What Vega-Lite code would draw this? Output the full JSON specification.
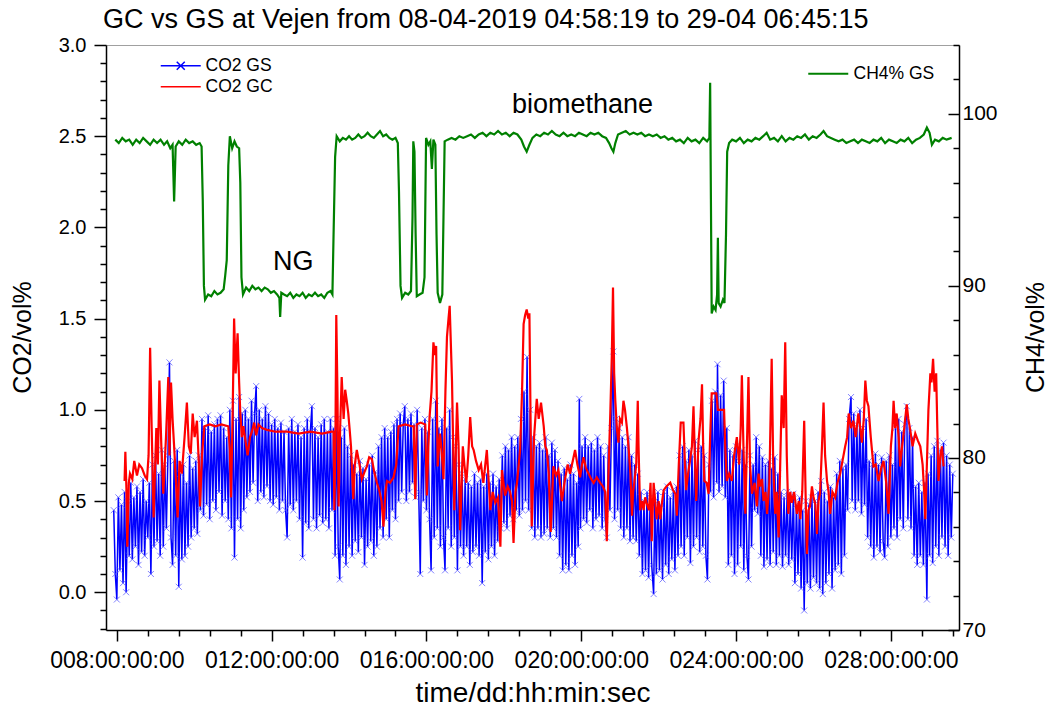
{
  "$schema": "https://vega.github.io/schema/vega-lite/v6.json",
  "width": 853,
  "height": 585,
  "autosize": {"type": "none"},
  "padding": {"left": 106, "top": 45, "right": 88, "bottom": 87},
  "background": "white",
  "title": {"text": "GC vs GS at Vejen from 08-04-2019 04:58:19 to 29-04 06:45:15", "anchor": "start", "frame": "group", "offset": 1, "dx": -3, "fontSize": 27, "font": "Liberation Sans", "fontWeight": "normal", "color": "black"},
  "config": {
    "font": "Liberation Sans",
    "view": {"stroke": "#a0a0a0", "strokeWidth": 1},
    "axis": {"labelFont": "Liberation Sans", "titleFont": "Liberation Sans", "labelColor": "black", "titleColor": "black", "titleFontWeight": "normal", "grid": false, "domainColor": "black", "domainWidth": 1.5, "tickColor": "black", "tickWidth": 1.5, "labelFontSize": 20, "titleFontSize": 25, "labelOverlap": false},
    "legend": {"labelFont": "Liberation Sans", "labelColor": "black", "labelFontSize": 17.5}
  },
  "datasets": {
    "gs": [
      {"t":7.92,"v":0.45},{"t":7.96,"v":0.10},{"t":8.00,"v":-0.04},{"t":8.04,"v":0.52},{"t":8.08,"v":0.12},{"t":8.12,"v":0.48},{"t":8.16,"v":0.05},{"t":8.20,"v":0.55},{"t":8.24,"v":0.00},{"t":8.28,"v":0.50},{"t":8.32,"v":0.20},{"t":8.36,"v":0.60},{"t":8.40,"v":0.18},{"t":8.44,"v":0.52},{"t":8.48,"v":0.25},{"t":8.52,"v":0.58},{"t":8.56,"v":0.15},{"t":8.60,"v":0.55},{"t":8.64,"v":0.22},{"t":8.68,"v":0.62},{"t":8.72,"v":0.20},{"t":8.76,"v":0.50},{"t":8.80,"v":0.30},{"t":8.84,"v":0.60},{"t":8.88,"v":0.10},{"t":8.92,"v":0.70},{"t":8.96,"v":0.25},{"t":9.00,"v":0.75},{"t":9.04,"v":0.28},{"t":9.08,"v":0.65},{"t":9.12,"v":0.20},{"t":9.16,"v":0.78},{"t":9.20,"v":0.25},{"t":9.24,"v":0.70},{"t":9.28,"v":0.35},{"t":9.32,"v":0.75},{"t":9.36,"v":1.26},{"t":9.40,"v":0.30},{"t":9.44,"v":0.15},{"t":9.48,"v":0.72},{"t":9.52,"v":0.20},{"t":9.56,"v":0.78},{"t":9.60,"v":0.03},{"t":9.64,"v":0.65},{"t":9.68,"v":0.18},{"t":9.72,"v":0.70},{"t":9.76,"v":0.20},{"t":9.80,"v":0.60},{"t":9.84,"v":0.25},{"t":9.88,"v":0.75},{"t":9.92,"v":0.30},{"t":9.96,"v":0.68},{"t":10.00,"v":0.35},{"t":10.04,"v":0.72},{"t":10.08,"v":0.32},{"t":10.12,"v":0.75},{"t":10.16,"v":0.45},{"t":10.20,"v":0.95},{"t":10.24,"v":0.42},{"t":10.28,"v":0.90},{"t":10.32,"v":0.48},{"t":10.36,"v":0.97},{"t":10.40,"v":0.40},{"t":10.44,"v":0.88},{"t":10.48,"v":0.50},{"t":10.52,"v":0.92},{"t":10.56,"v":0.45},{"t":10.60,"v":0.95},{"t":10.64,"v":0.55},{"t":10.68,"v":0.97},{"t":10.72,"v":0.42},{"t":10.76,"v":0.90},{"t":10.80,"v":0.50},{"t":10.84,"v":0.85},{"t":10.88,"v":0.40},{"t":10.92,"v":1.00},{"t":10.96,"v":0.35},{"t":11.00,"v":1.05},{"t":11.04,"v":0.19},{"t":11.08,"v":0.95},{"t":11.12,"v":0.40},{"t":11.16,"v":1.07},{"t":11.20,"v":0.35},{"t":11.24,"v":0.98},{"t":11.28,"v":0.45},{"t":11.32,"v":1.00},{"t":11.36,"v":0.52},{"t":11.40,"v":0.95},{"t":11.44,"v":0.55},{"t":11.48,"v":1.05},{"t":11.52,"v":0.60},{"t":11.56,"v":0.98},{"t":11.60,"v":1.13},{"t":11.64,"v":0.50},{"t":11.68,"v":1.00},{"t":11.72,"v":0.55},{"t":11.76,"v":0.95},{"t":11.80,"v":0.52},{"t":11.84,"v":1.02},{"t":11.88,"v":0.58},{"t":11.92,"v":0.98},{"t":11.96,"v":0.50},{"t":12.00,"v":0.92},{"t":12.04,"v":0.48},{"t":12.08,"v":0.95},{"t":12.12,"v":0.52},{"t":12.16,"v":0.90},{"t":12.20,"v":0.45},{"t":12.24,"v":0.93},{"t":12.28,"v":0.50},{"t":12.32,"v":0.88},{"t":12.36,"v":0.45},{"t":12.40,"v":0.30},{"t":12.44,"v":0.90},{"t":12.48,"v":0.48},{"t":12.52,"v":0.95},{"t":12.56,"v":0.45},{"t":12.60,"v":0.88},{"t":12.64,"v":0.50},{"t":12.68,"v":0.92},{"t":12.72,"v":0.40},{"t":12.76,"v":0.85},{"t":12.80,"v":0.19},{"t":12.84,"v":0.90},{"t":12.88,"v":0.38},{"t":12.92,"v":0.95},{"t":12.96,"v":0.35},{"t":13.00,"v":0.88},{"t":13.04,"v":1.02},{"t":13.08,"v":0.40},{"t":13.12,"v":0.90},{"t":13.16,"v":0.35},{"t":13.20,"v":0.85},{"t":13.24,"v":0.42},{"t":13.28,"v":0.92},{"t":13.32,"v":0.38},{"t":13.36,"v":0.95},{"t":13.40,"v":0.40},{"t":13.44,"v":0.88},{"t":13.48,"v":0.35},{"t":13.52,"v":0.95},{"t":13.56,"v":0.45},{"t":13.60,"v":0.90},{"t":13.64,"v":0.20},{"t":13.68,"v":0.95},{"t":13.72,"v":0.25},{"t":13.76,"v":0.07},{"t":13.80,"v":0.85},{"t":13.84,"v":0.20},{"t":13.88,"v":0.90},{"t":13.92,"v":0.15},{"t":13.96,"v":0.80},{"t":14.00,"v":0.25},{"t":14.04,"v":0.75},{"t":14.08,"v":0.20},{"t":14.12,"v":0.70},{"t":14.16,"v":0.28},{"t":14.20,"v":0.65},{"t":14.24,"v":0.22},{"t":14.28,"v":0.72},{"t":14.32,"v":0.30},{"t":14.36,"v":0.68},{"t":14.40,"v":0.15},{"t":14.44,"v":0.62},{"t":14.48,"v":0.25},{"t":14.52,"v":0.70},{"t":14.56,"v":0.28},{"t":14.60,"v":0.75},{"t":14.64,"v":0.20},{"t":14.68,"v":0.66},{"t":14.72,"v":0.25},{"t":14.76,"v":0.80},{"t":14.80,"v":0.35},{"t":14.84,"v":0.85},{"t":14.88,"v":0.30},{"t":14.92,"v":0.90},{"t":14.96,"v":0.40},{"t":15.00,"v":0.85},{"t":15.04,"v":0.30},{"t":15.08,"v":0.88},{"t":15.12,"v":0.45},{"t":15.16,"v":0.92},{"t":15.20,"v":0.40},{"t":15.24,"v":0.95},{"t":15.28,"v":0.50},{"t":15.32,"v":0.98},{"t":15.36,"v":0.55},{"t":15.40,"v":0.92},{"t":15.44,"v":1.02},{"t":15.48,"v":0.50},{"t":15.52,"v":0.95},{"t":15.56,"v":0.55},{"t":15.60,"v":0.98},{"t":15.64,"v":0.60},{"t":15.68,"v":0.92},{"t":15.72,"v":0.52},{"t":15.76,"v":1.00},{"t":15.80,"v":0.55},{"t":15.84,"v":0.10},{"t":15.88,"v":0.90},{"t":15.92,"v":0.50},{"t":15.96,"v":0.95},{"t":16.00,"v":0.45},{"t":16.04,"v":0.88},{"t":16.08,"v":0.40},{"t":16.12,"v":0.12},{"t":16.16,"v":0.95},{"t":16.20,"v":0.30},{"t":16.24,"v":1.05},{"t":16.28,"v":0.35},{"t":16.32,"v":0.90},{"t":16.36,"v":0.25},{"t":16.40,"v":0.95},{"t":16.44,"v":0.30},{"t":16.48,"v":0.12},{"t":16.52,"v":0.90},{"t":16.56,"v":0.35},{"t":16.60,"v":1.00},{"t":16.64,"v":0.25},{"t":16.68,"v":0.85},{"t":16.72,"v":0.30},{"t":16.76,"v":0.80},{"t":16.80,"v":0.12},{"t":16.84,"v":0.70},{"t":16.88,"v":0.25},{"t":16.92,"v":0.65},{"t":16.96,"v":0.20},{"t":17.00,"v":0.62},{"t":17.04,"v":0.25},{"t":17.08,"v":0.60},{"t":17.12,"v":0.15},{"t":17.16,"v":0.58},{"t":17.20,"v":0.22},{"t":17.24,"v":0.65},{"t":17.28,"v":0.25},{"t":17.32,"v":0.60},{"t":17.36,"v":0.20},{"t":17.40,"v":0.62},{"t":17.44,"v":0.05},{"t":17.48,"v":0.58},{"t":17.52,"v":0.22},{"t":17.56,"v":0.65},{"t":17.60,"v":0.18},{"t":17.64,"v":0.60},{"t":17.68,"v":0.25},{"t":17.72,"v":0.65},{"t":17.76,"v":0.20},{"t":17.80,"v":0.58},{"t":17.84,"v":0.28},{"t":17.88,"v":0.62},{"t":17.92,"v":0.35},{"t":17.96,"v":0.75},{"t":18.00,"v":0.38},{"t":18.04,"v":0.80},{"t":18.08,"v":0.35},{"t":18.12,"v":0.78},{"t":18.16,"v":0.42},{"t":18.20,"v":0.85},{"t":18.24,"v":0.40},{"t":18.28,"v":0.80},{"t":18.32,"v":0.45},{"t":18.36,"v":0.85},{"t":18.40,"v":0.42},{"t":18.44,"v":0.95},{"t":18.48,"v":0.45},{"t":18.52,"v":1.10},{"t":18.56,"v":0.50},{"t":18.60,"v":1.29},{"t":18.64,"v":0.45},{"t":18.68,"v":1.00},{"t":18.72,"v":0.35},{"t":18.76,"v":0.85},{"t":18.80,"v":0.30},{"t":18.84,"v":0.80},{"t":18.88,"v":0.35},{"t":18.92,"v":0.82},{"t":18.96,"v":0.30},{"t":19.00,"v":0.78},{"t":19.04,"v":0.32},{"t":19.08,"v":0.85},{"t":19.12,"v":0.35},{"t":19.16,"v":0.75},{"t":19.20,"v":0.30},{"t":19.24,"v":0.82},{"t":19.28,"v":0.35},{"t":19.32,"v":0.78},{"t":19.36,"v":0.30},{"t":19.40,"v":0.72},{"t":19.44,"v":0.20},{"t":19.48,"v":0.65},{"t":19.52,"v":0.12},{"t":19.56,"v":0.68},{"t":19.60,"v":0.15},{"t":19.64,"v":0.62},{"t":19.68,"v":0.12},{"t":19.72,"v":0.70},{"t":19.76,"v":0.20},{"t":19.80,"v":0.65},{"t":19.84,"v":0.15},{"t":19.88,"v":0.60},{"t":19.92,"v":0.25},{"t":19.95,"v":1.06},{"t":19.98,"v":0.35},{"t":20.02,"v":0.80},{"t":20.06,"v":0.40},{"t":20.10,"v":0.85},{"t":20.14,"v":0.38},{"t":20.18,"v":0.80},{"t":20.22,"v":0.45},{"t":20.26,"v":0.82},{"t":20.30,"v":0.35},{"t":20.34,"v":0.78},{"t":20.38,"v":0.40},{"t":20.42,"v":0.85},{"t":20.46,"v":0.42},{"t":20.50,"v":0.80},{"t":20.54,"v":0.35},{"t":20.58,"v":0.75},{"t":20.62,"v":0.40},{"t":20.66,"v":0.30},{"t":20.70,"v":0.80},{"t":20.74,"v":0.45},{"t":20.78,"v":0.90},{"t":20.83,"v":1.32},{"t":20.86,"v":0.40},{"t":20.90,"v":0.95},{"t":20.94,"v":0.45},{"t":20.98,"v":0.90},{"t":21.02,"v":0.35},{"t":21.06,"v":0.85},{"t":21.10,"v":0.30},{"t":21.14,"v":0.80},{"t":21.18,"v":0.35},{"t":21.22,"v":0.85},{"t":21.26,"v":0.28},{"t":21.30,"v":0.75},{"t":21.34,"v":0.30},{"t":21.38,"v":0.70},{"t":21.42,"v":0.28},{"t":21.46,"v":0.65},{"t":21.50,"v":0.20},{"t":21.54,"v":0.55},{"t":21.58,"v":0.10},{"t":21.62,"v":0.50},{"t":21.66,"v":0.12},{"t":21.70,"v":0.55},{"t":21.74,"v":0.08},{"t":21.78,"v":0.52},{"t":21.82,"v":0.15},{"t":21.87,"v":-0.01},{"t":21.90,"v":0.50},{"t":21.94,"v":0.10},{"t":21.98,"v":0.55},{"t":22.02,"v":0.12},{"t":22.06,"v":0.48},{"t":22.10,"v":0.07},{"t":22.14,"v":0.55},{"t":22.18,"v":0.15},{"t":22.22,"v":0.58},{"t":22.26,"v":0.10},{"t":22.30,"v":0.52},{"t":22.34,"v":0.18},{"t":22.38,"v":0.55},{"t":22.42,"v":0.12},{"t":22.46,"v":0.58},{"t":22.50,"v":0.20},{"t":22.54,"v":0.75},{"t":22.58,"v":0.25},{"t":22.62,"v":0.80},{"t":22.66,"v":0.20},{"t":22.70,"v":0.72},{"t":22.74,"v":0.30},{"t":22.78,"v":0.78},{"t":22.82,"v":0.16},{"t":22.86,"v":0.75},{"t":22.90,"v":0.25},{"t":22.94,"v":0.83},{"t":22.98,"v":0.30},{"t":23.02,"v":0.78},{"t":23.06,"v":0.22},{"t":23.10,"v":0.80},{"t":23.14,"v":0.25},{"t":23.18,"v":0.75},{"t":23.22,"v":0.20},{"t":23.26,"v":0.07},{"t":23.30,"v":0.70},{"t":23.34,"v":0.55},{"t":23.38,"v":1.05},{"t":23.42,"v":0.52},{"t":23.46,"v":1.10},{"t":23.50,"v":0.60},{"t":23.52,"v":1.25},{"t":23.56,"v":0.55},{"t":23.60,"v":1.08},{"t":23.64,"v":0.58},{"t":23.68,"v":1.16},{"t":23.72,"v":0.52},{"t":23.76,"v":0.90},{"t":23.80,"v":0.15},{"t":23.84,"v":0.78},{"t":23.88,"v":0.20},{"t":23.92,"v":0.75},{"t":23.96,"v":0.10},{"t":24.00,"v":0.80},{"t":24.04,"v":0.15},{"t":24.08,"v":0.72},{"t":24.12,"v":0.25},{"t":24.16,"v":0.78},{"t":24.20,"v":0.12},{"t":24.24,"v":0.70},{"t":24.28,"v":0.20},{"t":24.32,"v":0.07},{"t":24.36,"v":0.75},{"t":24.40,"v":0.25},{"t":24.44,"v":0.70},{"t":24.48,"v":0.45},{"t":24.52,"v":0.85},{"t":24.56,"v":0.43},{"t":24.60,"v":0.80},{"t":24.64,"v":0.20},{"t":24.68,"v":0.74},{"t":24.72,"v":0.14},{"t":24.76,"v":0.70},{"t":24.80,"v":0.18},{"t":24.84,"v":0.72},{"t":24.88,"v":0.15},{"t":24.92,"v":0.68},{"t":24.96,"v":0.22},{"t":25.00,"v":0.74},{"t":25.04,"v":0.15},{"t":25.08,"v":0.65},{"t":25.12,"v":0.20},{"t":25.16,"v":0.55},{"t":25.20,"v":0.14},{"t":25.24,"v":0.52},{"t":25.28,"v":0.20},{"t":25.32,"v":0.55},{"t":25.36,"v":0.15},{"t":25.40,"v":0.50},{"t":25.44,"v":0.18},{"t":25.48,"v":0.54},{"t":25.52,"v":0.05},{"t":25.56,"v":0.48},{"t":25.60,"v":0.10},{"t":25.64,"v":0.52},{"t":25.68,"v":0.02},{"t":25.72,"v":0.45},{"t":25.76,"v":-0.10},{"t":25.80,"v":0.50},{"t":25.84,"v":0.05},{"t":25.88,"v":0.48},{"t":25.92,"v":0.02},{"t":25.96,"v":0.52},{"t":26.00,"v":0.08},{"t":26.04,"v":0.50},{"t":26.08,"v":0.05},{"t":26.12,"v":0.55},{"t":26.16,"v":0.02},{"t":26.20,"v":0.61},{"t":26.24,"v":-0.01},{"t":26.28,"v":0.55},{"t":26.32,"v":0.05},{"t":26.36,"v":0.50},{"t":26.40,"v":0.10},{"t":26.44,"v":0.58},{"t":26.48,"v":0.02},{"t":26.52,"v":0.52},{"t":26.56,"v":0.12},{"t":26.60,"v":0.65},{"t":26.64,"v":0.15},{"t":26.68,"v":0.72},{"t":26.72,"v":0.10},{"t":26.76,"v":0.68},{"t":26.80,"v":0.20},{"t":26.84,"v":0.70},{"t":26.88,"v":0.45},{"t":26.92,"v":0.95},{"t":26.97,"v":1.07},{"t":27.00,"v":0.50},{"t":27.04,"v":0.98},{"t":27.08,"v":0.45},{"t":27.12,"v":0.92},{"t":27.16,"v":0.50},{"t":27.20,"v":1.00},{"t":27.24,"v":0.43},{"t":27.28,"v":0.90},{"t":27.32,"v":0.48},{"t":27.36,"v":0.95},{"t":27.40,"v":0.30},{"t":27.44,"v":0.72},{"t":27.48,"v":0.25},{"t":27.52,"v":0.70},{"t":27.56,"v":0.19},{"t":27.60,"v":0.76},{"t":27.64,"v":0.25},{"t":27.68,"v":0.70},{"t":27.72,"v":0.22},{"t":27.76,"v":0.74},{"t":27.80,"v":0.28},{"t":27.84,"v":0.19},{"t":27.88,"v":0.72},{"t":27.92,"v":0.25},{"t":27.96,"v":0.75},{"t":28.00,"v":0.30},{"t":28.04,"v":0.70},{"t":28.08,"v":0.35},{"t":28.12,"v":0.90},{"t":28.16,"v":0.30},{"t":28.20,"v":0.95},{"t":28.24,"v":0.40},{"t":28.28,"v":0.88},{"t":28.32,"v":0.35},{"t":28.36,"v":0.92},{"t":28.41,"v":1.02},{"t":28.44,"v":0.40},{"t":28.48,"v":0.90},{"t":28.52,"v":0.35},{"t":28.56,"v":0.85},{"t":28.60,"v":0.20},{"t":28.64,"v":0.58},{"t":28.68,"v":0.15},{"t":28.72,"v":0.60},{"t":28.76,"v":0.20},{"t":28.80,"v":0.55},{"t":28.84,"v":0.15},{"t":28.88,"v":0.60},{"t":28.93,"v":-0.04},{"t":28.96,"v":0.65},{"t":29.00,"v":0.20},{"t":29.04,"v":0.75},{"t":29.08,"v":0.16},{"t":29.12,"v":0.80},{"t":29.16,"v":0.25},{"t":29.20,"v":0.83},{"t":29.24,"v":0.20},{"t":29.28,"v":0.78},{"t":29.32,"v":0.30},{"t":29.36,"v":0.82},{"t":29.40,"v":0.25},{"t":29.44,"v":0.75},{"t":29.48,"v":0.20},{"t":29.52,"v":0.70},{"t":29.56,"v":0.30},{"t":29.60,"v":0.65}
    ],
    "gc": [
      {"t":8.20,"v":0.61},{"t":8.22,"v":0.77},{"t":8.25,"v":0.55},{"t":8.27,"v":0.25},{"t":8.31,"v":0.60},{"t":8.34,"v":0.65},{"t":8.40,"v":0.62},{"t":8.45,"v":0.72},{"t":8.52,"v":0.64},{"t":8.58,"v":0.70},{"t":8.65,"v":0.68},{"t":8.72,"v":0.64},{"t":8.78,"v":0.62},{"t":8.82,"v":0.75},{"t":8.86,"v":1.34},{"t":8.90,"v":0.90},{"t":8.95,"v":0.41},{"t":9.02,"v":0.90},{"t":9.06,"v":0.70},{"t":9.10,"v":1.16},{"t":9.15,"v":0.80},{"t":9.20,"v":0.54},{"t":9.27,"v":0.85},{"t":9.33,"v":1.18},{"t":9.36,"v":0.75},{"t":9.40,"v":1.15},{"t":9.44,"v":0.95},{"t":9.48,"v":0.80},{"t":9.53,"v":0.60},{"t":9.57,"v":0.41},{"t":9.62,"v":0.72},{"t":9.68,"v":0.65},{"t":9.75,"v":0.85},{"t":9.81,"v":1.04},{"t":9.86,"v":0.80},{"t":9.91,"v":0.76},{"t":9.96,"v":0.98},{"t":10.01,"v":0.85},{"t":10.07,"v":0.94},{"t":10.12,"v":0.70},{"t":10.15,"v":0.47},{"t":10.20,"v":0.75},{"t":10.26,"v":0.91},{"t":10.40,"v":0.92},{"t":10.55,"v":0.91},{"t":10.70,"v":0.92},{"t":10.88,"v":0.91},{"t":10.92,"v":0.78},{"t":10.95,"v":0.52},{"t":10.99,"v":0.95},{"t":11.03,"v":1.50},{"t":11.07,"v":1.20},{"t":11.12,"v":1.42},{"t":11.16,"v":1.15},{"t":11.19,"v":0.98},{"t":11.23,"v":0.85},{"t":11.27,"v":0.91},{"t":11.33,"v":0.82},{"t":11.38,"v":0.75},{"t":11.44,"v":0.85},{"t":11.49,"v":0.88},{"t":11.55,"v":0.93},{"t":11.60,"v":0.86},{"t":11.66,"v":0.92},{"t":11.75,"v":0.90},{"t":11.88,"v":0.89},{"t":12.10,"v":0.88},{"t":12.40,"v":0.88},{"t":12.70,"v":0.87},{"t":13.00,"v":0.88},{"t":13.30,"v":0.87},{"t":13.55,"v":0.88},{"t":13.60,"v":0.88},{"t":13.62,"v":0.45},{"t":13.65,"v":0.90},{"t":13.67,"v":1.52},{"t":13.70,"v":1.10},{"t":13.73,"v":0.47},{"t":13.77,"v":0.90},{"t":13.81,"v":1.18},{"t":13.86,"v":0.95},{"t":13.90,"v":1.11},{"t":13.94,"v":1.05},{"t":13.98,"v":0.98},{"t":14.02,"v":0.88},{"t":14.05,"v":0.80},{"t":14.11,"v":0.51},{"t":14.15,"v":0.70},{"t":14.20,"v":0.78},{"t":14.27,"v":0.70},{"t":14.33,"v":0.62},{"t":14.40,"v":0.66},{"t":14.46,"v":0.69},{"t":14.52,"v":0.74},{"t":14.59,"v":0.73},{"t":14.65,"v":0.66},{"t":14.72,"v":0.60},{"t":14.78,"v":0.56},{"t":14.84,"v":0.50},{"t":14.89,"v":0.36},{"t":14.94,"v":0.55},{"t":14.98,"v":0.61},{"t":15.06,"v":0.60},{"t":15.15,"v":0.63},{"t":15.22,"v":0.70},{"t":15.28,"v":0.91},{"t":15.45,"v":0.92},{"t":15.62,"v":0.91},{"t":15.67,"v":0.91},{"t":15.71,"v":0.51},{"t":15.75,"v":0.92},{"t":15.85,"v":0.93},{"t":15.97,"v":0.92},{"t":16.01,"v":0.53},{"t":16.05,"v":0.80},{"t":16.08,"v":0.96},{"t":16.13,"v":1.10},{"t":16.18,"v":1.37},{"t":16.22,"v":1.30},{"t":16.25,"v":1.35},{"t":16.29,"v":0.69},{"t":16.35,"v":0.87},{"t":16.40,"v":0.75},{"t":16.44,"v":0.62},{"t":16.49,"v":1.10},{"t":16.53,"v":1.40},{"t":16.57,"v":1.50},{"t":16.60,"v":1.57},{"t":16.66,"v":1.16},{"t":16.72,"v":0.45},{"t":16.79,"v":1.04},{"t":16.83,"v":0.80},{"t":16.87,"v":0.34},{"t":16.94,"v":0.80},{"t":16.98,"v":0.70},{"t":17.03,"v":0.60},{"t":17.08,"v":0.75},{"t":17.13,"v":0.96},{"t":17.18,"v":0.80},{"t":17.22,"v":0.78},{"t":17.28,"v":0.72},{"t":17.35,"v":0.67},{"t":17.41,"v":0.70},{"t":17.47,"v":0.60},{"t":17.52,"v":0.70},{"t":17.56,"v":0.78},{"t":17.61,"v":0.60},{"t":17.65,"v":0.45},{"t":17.71,"v":0.55},{"t":17.78,"v":0.49},{"t":17.85,"v":0.52},{"t":17.91,"v":0.25},{"t":17.95,"v":0.67},{"t":18.03,"v":0.53},{"t":18.10,"v":0.58},{"t":18.16,"v":0.55},{"t":18.21,"v":0.50},{"t":18.25,"v":0.27},{"t":18.30,"v":0.55},{"t":18.34,"v":0.60},{"t":18.42,"v":0.78},{"t":18.47,"v":1.10},{"t":18.51,"v":1.47},{"t":18.55,"v":1.52},{"t":18.59,"v":1.55},{"t":18.63,"v":1.50},{"t":18.66,"v":1.53},{"t":18.72,"v":0.36},{"t":18.78,"v":0.85},{"t":18.85,"v":1.06},{"t":18.90,"v":0.95},{"t":18.96,"v":1.04},{"t":19.03,"v":0.91},{"t":19.07,"v":0.80},{"t":19.11,"v":0.78},{"t":19.16,"v":0.65},{"t":19.21,"v":0.33},{"t":19.28,"v":0.69},{"t":19.35,"v":0.64},{"t":19.41,"v":0.67},{"t":19.50,"v":0.50},{"t":19.58,"v":0.62},{"t":19.65,"v":0.70},{"t":19.71,"v":0.65},{"t":19.78,"v":0.72},{"t":19.84,"v":0.78},{"t":19.90,"v":0.70},{"t":19.97,"v":0.63},{"t":20.02,"v":0.70},{"t":20.06,"v":0.74},{"t":20.12,"v":0.68},{"t":20.19,"v":0.65},{"t":20.26,"v":0.62},{"t":20.32,"v":0.60},{"t":20.40,"v":0.63},{"t":20.49,"v":0.60},{"t":20.56,"v":0.58},{"t":20.62,"v":0.55},{"t":20.66,"v":0.28},{"t":20.71,"v":0.70},{"t":20.75,"v":0.98},{"t":20.79,"v":1.30},{"t":20.82,"v":1.67},{"t":20.85,"v":1.20},{"t":20.88,"v":1.05},{"t":20.92,"v":0.90},{"t":20.96,"v":0.82},{"t":21.00,"v":0.95},{"t":21.05,"v":0.93},{"t":21.09,"v":1.05},{"t":21.13,"v":1.00},{"t":21.18,"v":0.90},{"t":21.22,"v":0.80},{"t":21.27,"v":0.65},{"t":21.31,"v":0.42},{"t":21.34,"v":0.55},{"t":21.37,"v":0.60},{"t":21.42,"v":0.70},{"t":21.46,"v":1.05},{"t":21.48,"v":0.80},{"t":21.52,"v":0.45},{"t":21.57,"v":0.50},{"t":21.61,"v":0.45},{"t":21.65,"v":0.52},{"t":21.69,"v":0.49},{"t":21.75,"v":0.45},{"t":21.79,"v":0.60},{"t":21.82,"v":0.28},{"t":21.87,"v":0.60},{"t":21.91,"v":0.50},{"t":21.95,"v":0.40},{"t":22.00,"v":0.50},{"t":22.04,"v":0.40},{"t":22.09,"v":0.50},{"t":22.13,"v":0.56},{"t":22.20,"v":0.58},{"t":22.30,"v":0.60},{"t":22.37,"v":0.56},{"t":22.43,"v":0.54},{"t":22.47,"v":0.42},{"t":22.52,"v":0.70},{"t":22.57,"v":0.93},{"t":22.64,"v":0.93},{"t":22.68,"v":0.70},{"t":22.71,"v":0.56},{"t":22.76,"v":0.65},{"t":22.81,"v":0.72},{"t":22.86,"v":0.80},{"t":22.90,"v":1.02},{"t":22.94,"v":0.70},{"t":22.97,"v":0.50},{"t":23.03,"v":0.83},{"t":23.08,"v":0.95},{"t":23.12,"v":1.14},{"t":23.15,"v":0.80},{"t":23.18,"v":0.61},{"t":23.24,"v":0.60},{"t":23.29,"v":0.54},{"t":23.33,"v":0.85},{"t":23.37,"v":1.09},{"t":23.49,"v":1.09},{"t":23.53,"v":1.00},{"t":23.57,"v":1.00},{"t":23.69,"v":1.00},{"t":23.72,"v":0.80},{"t":23.76,"v":0.61},{"t":23.82,"v":0.65},{"t":23.89,"v":0.61},{"t":23.95,"v":0.75},{"t":24.02,"v":0.85},{"t":24.08,"v":0.70},{"t":24.12,"v":0.90},{"t":24.15,"v":1.19},{"t":24.19,"v":0.80},{"t":24.24,"v":0.43},{"t":24.28,"v":0.80},{"t":24.32,"v":1.18},{"t":24.36,"v":0.70},{"t":24.41,"v":0.54},{"t":24.48,"v":0.60},{"t":24.54,"v":0.47},{"t":24.58,"v":0.65},{"t":24.62,"v":0.58},{"t":24.67,"v":0.62},{"t":24.71,"v":0.50},{"t":24.76,"v":0.55},{"t":24.80,"v":0.43},{"t":24.86,"v":0.60},{"t":24.92,"v":1.28},{"t":24.96,"v":0.70},{"t":25.01,"v":0.43},{"t":25.05,"v":0.55},{"t":25.10,"v":0.30},{"t":25.14,"v":0.70},{"t":25.18,"v":1.08},{"t":25.23,"v":0.90},{"t":25.27,"v":1.37},{"t":25.31,"v":0.75},{"t":25.35,"v":0.43},{"t":25.40,"v":0.55},{"t":25.44,"v":0.49},{"t":25.50,"v":0.55},{"t":25.57,"v":0.43},{"t":25.62,"v":0.50},{"t":25.66,"v":0.40},{"t":25.71,"v":0.55},{"t":25.76,"v":0.94},{"t":25.80,"v":0.50},{"t":25.83,"v":0.21},{"t":25.87,"v":0.45},{"t":25.91,"v":0.47},{"t":25.96,"v":0.58},{"t":26.00,"v":0.52},{"t":26.05,"v":0.48},{"t":26.09,"v":0.32},{"t":26.13,"v":0.50},{"t":26.17,"v":0.54},{"t":26.22,"v":0.80},{"t":26.26,"v":1.04},{"t":26.30,"v":0.75},{"t":26.35,"v":0.61},{"t":26.39,"v":0.55},{"t":26.43,"v":0.43},{"t":26.49,"v":0.55},{"t":26.56,"v":0.52},{"t":26.62,"v":0.60},{"t":26.69,"v":0.65},{"t":26.75,"v":0.72},{"t":26.82,"v":0.80},{"t":26.87,"v":0.85},{"t":26.91,"v":0.98},{"t":26.97,"v":0.90},{"t":27.03,"v":0.94},{"t":27.09,"v":0.85},{"t":27.16,"v":0.98},{"t":27.21,"v":0.90},{"t":27.25,"v":0.82},{"t":27.30,"v":0.95},{"t":27.34,"v":1.16},{"t":27.38,"v":1.05},{"t":27.42,"v":1.02},{"t":27.48,"v":0.85},{"t":27.55,"v":0.69},{"t":27.61,"v":0.70},{"t":27.68,"v":0.61},{"t":27.75,"v":0.68},{"t":27.81,"v":0.72},{"t":27.88,"v":0.60},{"t":27.94,"v":0.43},{"t":28.00,"v":0.80},{"t":28.04,"v":0.90},{"t":28.07,"v":1.05},{"t":28.11,"v":0.90},{"t":28.15,"v":0.98},{"t":28.20,"v":0.85},{"t":28.24,"v":0.69},{"t":28.29,"v":0.80},{"t":28.33,"v":0.87},{"t":28.37,"v":0.95},{"t":28.41,"v":1.03},{"t":28.45,"v":0.95},{"t":28.50,"v":0.89},{"t":28.56,"v":0.80},{"t":28.63,"v":0.87},{"t":28.70,"v":0.83},{"t":28.76,"v":0.80},{"t":28.82,"v":0.70},{"t":28.86,"v":0.55},{"t":28.89,"v":0.40},{"t":28.93,"v":0.70},{"t":28.97,"v":1.00},{"t":29.02,"v":1.20},{"t":29.05,"v":1.15},{"t":29.09,"v":1.28},{"t":29.13,"v":1.10},{"t":29.17,"v":1.20},{"t":29.20,"v":0.90},{"t":29.23,"v":0.61},{"t":29.28,"v":0.75},{"t":29.32,"v":0.80},{"t":29.36,"v":0.69}
    ],
    "ch4": [
      {"t":7.96,"c":98.5},{"t":8.05,"c":98.3},{"t":8.14,"c":98.6},{"t":8.23,"c":98.4},{"t":8.32,"c":98.5},{"t":8.41,"c":98.2},{"t":8.50,"c":98.5},{"t":8.59,"c":98.3},{"t":8.68,"c":98.6},{"t":8.77,"c":98.4},{"t":8.86,"c":98.2},{"t":8.95,"c":98.5},{"t":9.04,"c":98.3},{"t":9.13,"c":98.5},{"t":9.22,"c":98.2},{"t":9.30,"c":98.4},{"t":9.38,"c":98.0},{"t":9.44,"c":98.2},{"t":9.48,"c":94.9},{"t":9.52,"c":98.1},{"t":9.60,"c":98.4},{"t":9.69,"c":98.2},{"t":9.78,"c":98.5},{"t":9.87,"c":98.3},{"t":9.96,"c":98.4},{"t":10.05,"c":98.2},{"t":10.14,"c":98.3},{"t":10.19,"c":98.1},{"t":10.22,"c":95.0},{"t":10.25,"c":90.0},{"t":10.28,"c":89.2},{"t":10.36,"c":89.5},{"t":10.44,"c":89.4},{"t":10.52,"c":89.7},{"t":10.60,"c":89.5},{"t":10.68,"c":89.6},{"t":10.76,"c":89.8},{"t":10.80,"c":90.6},{"t":10.84,"c":91.5},{"t":10.88,"c":97.0},{"t":10.92,"c":98.7},{"t":10.98,"c":98.0},{"t":11.04,"c":98.4},{"t":11.10,"c":98.1},{"t":11.16,"c":98.0},{"t":11.19,"c":96.0},{"t":11.22,"c":90.5},{"t":11.26,"c":89.5},{"t":11.34,"c":89.9},{"t":11.42,"c":89.7},{"t":11.50,"c":90.0},{"t":11.58,"c":89.8},{"t":11.66,"c":89.9},{"t":11.74,"c":89.7},{"t":11.82,"c":89.9},{"t":11.90,"c":89.8},{"t":11.98,"c":89.6},{"t":12.06,"c":89.7},{"t":12.14,"c":89.5},{"t":12.20,"c":89.3},{"t":12.22,"c":88.2},{"t":12.25,"c":89.6},{"t":12.32,"c":89.5},{"t":12.40,"c":89.4},{"t":12.48,"c":89.6},{"t":12.56,"c":89.3},{"t":12.64,"c":89.5},{"t":12.72,"c":89.4},{"t":12.80,"c":89.6},{"t":12.88,"c":89.3},{"t":12.96,"c":89.5},{"t":13.04,"c":89.4},{"t":13.12,"c":89.6},{"t":13.20,"c":89.4},{"t":13.28,"c":89.5},{"t":13.36,"c":89.3},{"t":13.44,"c":89.6},{"t":13.52,"c":89.7},{"t":13.57,"c":89.5},{"t":13.60,"c":93.0},{"t":13.64,"c":97.5},{"t":13.68,"c":98.7},{"t":13.76,"c":98.4},{"t":13.84,"c":98.6},{"t":13.92,"c":98.5},{"t":14.00,"c":98.7},{"t":14.08,"c":98.5},{"t":14.16,"c":98.6},{"t":14.24,"c":98.8},{"t":14.32,"c":98.6},{"t":14.40,"c":98.7},{"t":14.48,"c":98.9},{"t":14.56,"c":98.7},{"t":14.64,"c":98.6},{"t":14.72,"c":98.8},{"t":14.80,"c":99.0},{"t":14.88,"c":98.7},{"t":14.96,"c":98.8},{"t":15.04,"c":98.6},{"t":15.12,"c":98.5},{"t":15.20,"c":98.6},{"t":15.26,"c":98.3},{"t":15.29,"c":95.5},{"t":15.33,"c":90.0},{"t":15.37,"c":89.3},{"t":15.45,"c":89.6},{"t":15.53,"c":89.5},{"t":15.60,"c":89.7},{"t":15.64,"c":94.0},{"t":15.66,"c":98.4},{"t":15.69,"c":97.8},{"t":15.72,"c":93.0},{"t":15.75,"c":89.4},{"t":15.82,"c":89.5},{"t":15.90,"c":89.6},{"t":15.95,"c":90.5},{"t":15.99,"c":98.6},{"t":16.05,"c":98.2},{"t":16.10,"c":98.4},{"t":16.14,"c":96.8},{"t":16.18,"c":98.5},{"t":16.23,"c":98.2},{"t":16.26,"c":93.0},{"t":16.29,"c":89.6},{"t":16.35,"c":89.0},{"t":16.41,"c":89.5},{"t":16.44,"c":94.0},{"t":16.47,"c":98.4},{"t":16.55,"c":98.5},{"t":16.65,"c":98.6},{"t":16.75,"c":98.5},{"t":16.85,"c":98.7},{"t":16.95,"c":98.6},{"t":17.05,"c":98.7},{"t":17.15,"c":98.8},{"t":17.25,"c":98.6},{"t":17.35,"c":98.8},{"t":17.45,"c":98.9},{"t":17.55,"c":98.7},{"t":17.65,"c":98.9},{"t":17.75,"c":98.8},{"t":17.85,"c":99.0},{"t":17.95,"c":98.8},{"t":18.05,"c":98.9},{"t":18.15,"c":98.7},{"t":18.25,"c":98.9},{"t":18.35,"c":98.8},{"t":18.45,"c":98.5},{"t":18.52,"c":98.1},{"t":18.59,"c":97.8},{"t":18.66,"c":98.2},{"t":18.74,"c":98.6},{"t":18.84,"c":98.8},{"t":18.94,"c":98.7},{"t":19.04,"c":98.9},{"t":19.14,"c":98.8},{"t":19.24,"c":99.0},{"t":19.34,"c":98.8},{"t":19.44,"c":98.7},{"t":19.54,"c":98.9},{"t":19.64,"c":98.7},{"t":19.74,"c":98.8},{"t":19.84,"c":98.7},{"t":19.94,"c":98.9},{"t":20.04,"c":98.8},{"t":20.14,"c":98.7},{"t":20.24,"c":98.9},{"t":20.34,"c":98.8},{"t":20.44,"c":98.9},{"t":20.54,"c":98.7},{"t":20.64,"c":98.6},{"t":20.72,"c":98.3},{"t":20.78,"c":98.0},{"t":20.83,"c":97.8},{"t":20.88,"c":98.3},{"t":20.95,"c":98.8},{"t":21.05,"c":98.9},{"t":21.15,"c":99.0},{"t":21.25,"c":98.8},{"t":21.35,"c":98.9},{"t":21.45,"c":98.8},{"t":21.55,"c":98.9},{"t":21.65,"c":98.7},{"t":21.75,"c":98.8},{"t":21.85,"c":98.7},{"t":21.95,"c":98.8},{"t":22.05,"c":98.6},{"t":22.15,"c":98.7},{"t":22.25,"c":98.5},{"t":22.35,"c":98.6},{"t":22.45,"c":98.4},{"t":22.55,"c":98.5},{"t":22.65,"c":98.3},{"t":22.75,"c":98.6},{"t":22.85,"c":98.4},{"t":22.95,"c":98.5},{"t":23.05,"c":98.3},{"t":23.15,"c":98.6},{"t":23.25,"c":98.4},{"t":23.31,"c":98.6},{"t":23.33,"c":101.8},{"t":23.35,"c":95.0},{"t":23.37,"c":88.4},{"t":23.42,"c":88.8},{"t":23.47,"c":88.6},{"t":23.51,"c":89.5},{"t":23.53,"c":92.8},{"t":23.55,"c":89.0},{"t":23.60,"c":88.8},{"t":23.66,"c":89.2},{"t":23.70,"c":89.0},{"t":23.74,"c":93.0},{"t":23.77,"c":97.8},{"t":23.82,"c":98.3},{"t":23.90,"c":98.5},{"t":24.00,"c":98.4},{"t":24.10,"c":98.6},{"t":24.20,"c":98.3},{"t":24.30,"c":98.5},{"t":24.40,"c":98.4},{"t":24.50,"c":98.6},{"t":24.60,"c":98.5},{"t":24.70,"c":98.7},{"t":24.79,"c":98.9},{"t":24.88,"c":98.5},{"t":24.98,"c":98.6},{"t":25.08,"c":98.4},{"t":25.18,"c":98.7},{"t":25.28,"c":98.4},{"t":25.38,"c":98.6},{"t":25.48,"c":98.5},{"t":25.58,"c":98.7},{"t":25.68,"c":98.6},{"t":25.78,"c":98.8},{"t":25.88,"c":98.5},{"t":25.98,"c":98.7},{"t":26.08,"c":98.6},{"t":26.18,"c":98.8},{"t":26.26,"c":99.0},{"t":26.35,"c":98.7},{"t":26.45,"c":98.6},{"t":26.55,"c":98.5},{"t":26.65,"c":98.4},{"t":26.75,"c":98.5},{"t":26.85,"c":98.3},{"t":26.95,"c":98.4},{"t":27.05,"c":98.5},{"t":27.15,"c":98.3},{"t":27.25,"c":98.5},{"t":27.35,"c":98.4},{"t":27.45,"c":98.3},{"t":27.55,"c":98.5},{"t":27.65,"c":98.4},{"t":27.75,"c":98.6},{"t":27.85,"c":98.3},{"t":27.95,"c":98.5},{"t":28.05,"c":98.4},{"t":28.15,"c":98.3},{"t":28.25,"c":98.5},{"t":28.35,"c":98.4},{"t":28.45,"c":98.6},{"t":28.55,"c":98.3},{"t":28.65,"c":98.5},{"t":28.75,"c":98.6},{"t":28.85,"c":98.8},{"t":28.93,"c":99.2},{"t":29.00,"c":98.9},{"t":29.06,"c":98.2},{"t":29.14,"c":98.5},{"t":29.24,"c":98.4},{"t":29.34,"c":98.6},{"t":29.44,"c":98.5},{"t":29.57,"c":98.6}
    ],
    "notes": [
      {"t": 12.56, "v": 1.81, "label": "NG"},
      {"t": 20.03, "v": 2.67, "label": "biomethane"}
    ]
  },
  "layer": [
    {
      "layer": [
        {
          "data": {"name": "gs"},
          "mark": {"type": "line", "strokeWidth": 1.5, "clip": true},
          "encoding": {
            "x": {"field": "t", "type": "quantitative", "scale": {"domain": [7.72, 29.76], "nice": false, "zero": false},
              "axis": {"orient": "bottom", "values": [8, 12, 16, 20, 24, 28],
                "labelExpr": "'0' + (datum.value < 10 ? '0' : '') + datum.value + ':00:00:00'",
                "tickSize": 11, "labelOverlap": false, "labelFontSize": 23, "labelPadding": 8, "title": "time/dd:hh:min:sec", "titleFontSize": 28, "titleBaseline": "middle", "titleY": 63}},
            "y": {"field": "v", "type": "quantitative", "scale": {"domain": [-0.207, 3.0], "nice": false, "zero": false},
              "axis": {"orient": "left", "values": [0, 0.5, 1, 1.5, 2, 2.5, 3],
                "format": ".1f", "tickSize": 12, "labelOverlap": false, "labelFontSize": 20, "labelPadding": 8, "title": "CO2/vol%", "titleFontSize": 25, "titleAngle": 270, "titleX": -84, "titleY": 292, "titleBaseline": "middle", "titleAlign": "center"}},
            "color": {"datum": "CO2 GS", "scale": {"domain": ["CO2 GS", "CO2 GC"], "range": ["#0000ff", "#ff0000"]},
              "legend": {"orient": "none", "legendX": 66, "legendY": 12, "title": null, "symbolType": "M-5,0L5,0", "symbolSize": 64, "symbolStrokeWidth": 1.5, "labelFontSize": 17.5, "labelOffset": 16, "rowPadding": 2, "padding": 0,
                "encode": {"symbols": {"update": {"shape": {"signal": "datum.value === 'CO2 GS' ? 'M-5,0L5,0M-1,-1L1,1M-1,1L1,-1' : 'M-5,0L5,0'"}}}}}}
          }
        },
        {
          "data": {"name": "gs"},
          "mark": {"type": "point", "shape": "M-1,-1L1,1M-1,1L1,-1", "size": 36, "filled": false, "color": "#5050ff", "strokeWidth": 1, "opacity": 0.7, "clip": true},
          "encoding": {
            "x": {"field": "t", "type": "quantitative"},
            "y": {"field": "v", "type": "quantitative",
              "axis": {"orient": "left", "values": [-0.2, -0.1, 0.1, 0.2, 0.3, 0.4, 0.6, 0.7, 0.8, 0.9, 1.1, 1.2, 1.3, 1.4, 1.6, 1.7, 1.8, 1.9, 2.1, 2.2, 2.3, 2.4, 2.6, 2.7, 2.8, 2.9],
                "labels": false, "domain": false, "tickSize": 6, "title": null}}
          }
        },
        {
          "data": {"name": "gc"},
          "mark": {"type": "line", "strokeWidth": 2.2, "clip": true},
          "encoding": {
            "x": {"field": "t", "type": "quantitative"},
            "y": {"field": "v", "type": "quantitative", "axis": null},
            "color": {"datum": "CO2 GC"}
          }
        },
        {
          "data": {"name": "notes"},
          "mark": {"type": "text", "fontSize": 27, "font": "Liberation Sans", "color": "black"},
          "encoding": {
            "x": {"field": "t", "type": "quantitative"},
            "y": {"field": "v", "type": "quantitative", "axis": null},
            "text": {"field": "label"}
          }
        }
      ],
      "resolve": {"axis": {"y": "independent"}}
    },
    {
      "layer": [
        {
          "data": {"name": "ch4"},
          "mark": {"type": "line", "strokeWidth": 2.2, "clip": true},
          "encoding": {
            "x": {"field": "t", "type": "quantitative",
              "axis": {"orient": "bottom", "values": [8.8, 9.6, 10.4, 11.2, 12.8, 13.6, 14.4, 15.2, 16.8, 17.6, 18.4, 19.2, 20.8, 21.6, 22.4, 23.2, 24.8, 25.6, 26.4, 27.2, 28.8, 29.6],
                "labels": false, "domain": false, "tickSize": 6, "title": null}},
            "y": {"field": "c", "type": "quantitative", "scale": {"domain": [70, 104], "nice": false, "zero": false},
              "axis": {"orient": "right", "values": [70, 80, 90, 100],
                "tickSize": -11, "labelOverlap": false, "labelFontSize": 21, "labelPadding": 14, "title": "CH4/vol%", "titleFontSize": 25, "titleAngle": 270, "titleX": 76, "titleY": 292, "titleBaseline": "middle", "titleAlign": "center",
                "encode": {"labels": {"update": {"dx": {"value": 11}}}}}},
            "stroke": {"datum": "CH4% GS", "scale": {"domain": ["CH4% GS"], "range": ["#008000"]},
              "legend": {"orient": "none", "legendX": 713.5, "legendY": 20, "title": null, "symbolType": "M-5,0L5,0", "symbolSize": 64, "symbolStrokeWidth": 2, "labelFontSize": 17.5, "labelOffset": 16.5, "padding": 0}}
          }
        },
        {
          "data": {"name": "ch4"},
          "mark": {"type": "line", "strokeOpacity": 0, "clip": true},
          "encoding": {
            "x": {"field": "t", "type": "quantitative"},
            "y": {"field": "c", "type": "quantitative",
              "axis": {"orient": "right", "values": [72, 74, 76, 78, 82, 84, 86, 88, 92, 94, 96, 98, 102, 104],
                "labels": false, "domain": false, "tickSize": -6, "title": null}}
          }
        }
      ],
      "resolve": {"axis": {"y": "independent"}}
    }
  ],
  "resolve": {"scale": {"y": "independent"}, "axis": {"x": "independent"}}
}
